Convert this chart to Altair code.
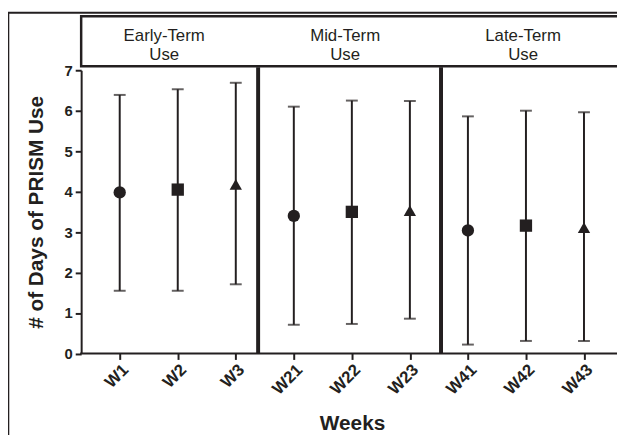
import altair as alt
import pandas as pd

# ---- data ----
weeks = ["W1", "W2", "W3", "W21", "W22", "W23", "W41", "W42", "W43"]
means = [3.98, 4.05, 4.18, 3.40, 3.50, 3.53, 3.04, 3.16, 3.11]
upper = [6.39, 6.53, 6.69, 6.10, 6.25, 6.24, 5.86, 6.00, 5.96]
lower = [1.55, 1.55, 1.71, 0.71, 0.73, 0.86, 0.22, 0.31, 0.31]
shapes = ["circle", "square", "triangle-up"] * 3
phases = ["Early-Term\nUse", "Mid-Term\nUse", "Late-Term\nUse"]
y_ticks = [0, 1, 2, 3, 4, 5, 6, 7]

df = pd.DataFrame({"week": weeks, "mean": means, "upper": upper,
                   "lower": lower, "shape": shapes})

W, H = 542, 286.5
INK = "#231f20"
FONT = "Liberation Sans"

x_axis = alt.Axis(title="Weeks", labelAngle=-45, labelFont=FONT, labelFontSize=17,
                  labelFontWeight="bold", labelColor=INK, labelPadding=2,
                  domain=False, tickWidth=2, tickSize=6, tickColor=INK, grid=False,
                  titleFont=FONT, titleFontSize=21, titleFontWeight="bold", titleColor=INK,
                  titleX=274, titleY=77, titleBaseline="alphabetic", titleAlign="center")
y_axis = alt.Axis(title="# of Days of PRISM Use", values=y_ticks, labelFont=FONT,
                  labelFontSize=15, labelFontWeight="bold", labelColor=INK, labelPadding=3,
                  domainWidth=2, domainColor=INK, tickWidth=2, tickSize=6, tickColor=INK,
                  grid=False, titleFont=FONT, titleFontSize=21, titleFontWeight="bold",
                  titleColor=INK, titleX=-39, titleY=H / 2, titleAngle=270,
                  titleBaseline="alphabetic", titleAlign="center")

x_scale = alt.Scale(type="point", domain=weeks, range=[39, 508.6], padding=0)
y_scale = alt.Scale(domain=[0, 7], nice=False)


def X():
    return alt.X("week:N", sort=weeks, scale=x_scale, axis=x_axis)


def Y(field):
    return alt.Y(f"{field}:Q", scale=y_scale, axis=y_axis)


one = pd.DataFrame({"k": [0]})

frame = alt.Chart(one).mark_rect(fill="transparent", stroke=INK, strokeWidth=2).encode(
    x=alt.value(-73.7), x2=alt.value(W + 20), y=alt.value(-58.2), y2=alt.value(H + 120))
header = alt.Chart(one).mark_rect(fill="transparent", stroke=INK, strokeWidth=2.5).encode(
    x=alt.value(0), x2=alt.value(W + 20), y=alt.value(-54.5), y2=alt.value(-4))
sep1 = alt.Chart(one).mark_rule(color=INK, strokeWidth=4).encode(
    x=alt.value(179), y=alt.value(-3), y2=alt.value(H))
sep2 = alt.Chart(one).mark_rule(color=INK, strokeWidth=4).encode(
    x=alt.value(364), y=alt.value(-3), y2=alt.value(H))
baseline = alt.Chart(one).mark_rule(color=INK, strokeWidth=2).encode(
    x=alt.value(-1), x2=alt.value(W + 10), y=alt.value(H), y2=alt.value(H))

bars = alt.Chart(df).mark_rule(color=INK, strokeWidth=2).encode(
    x=X(), y=Y("lower"), y2="upper:Q")
cap_hi = alt.Chart(df).mark_tick(color=INK, orient="horizontal", size=12, thickness=2).encode(
    x=X(), y=Y("upper"))
cap_lo = alt.Chart(df).mark_tick(color=INK, orient="horizontal", size=12, thickness=2).encode(
    x=X(), y=Y("lower"))
pts = alt.Chart(df).mark_point(filled=True, size=155, opacity=1, color=INK).encode(
    x=X(), y=Y("mean"), shape=alt.Shape("shape:N", scale=None, legend=None))

texts = []
for label, px in zip(phases, [84, 267, 447]):
    texts.append(
        alt.Chart(pd.DataFrame({"label": [label]})).mark_text(
            font=FONT, fontSize=17, color=INK, lineBreak="\n", lineHeight=19,
            align="center", baseline="alphabetic").encode(
            x=alt.value(px), y=alt.value(-29.5), text="label:N"))

chart = alt.layer(frame, header, sep1, sep2, baseline, bars, cap_hi, cap_lo, pts, *texts).properties(
    width=W, height=H,
    autosize=alt.AutoSizeParams(type="none"),
    padding={"left": 74, "top": 60.5, "right": 0, "bottom": 80},
    background="white",
).configure_view(stroke="transparent")

chart.save("out.html", embed_options={"renderer": "svg", "actions": False})
